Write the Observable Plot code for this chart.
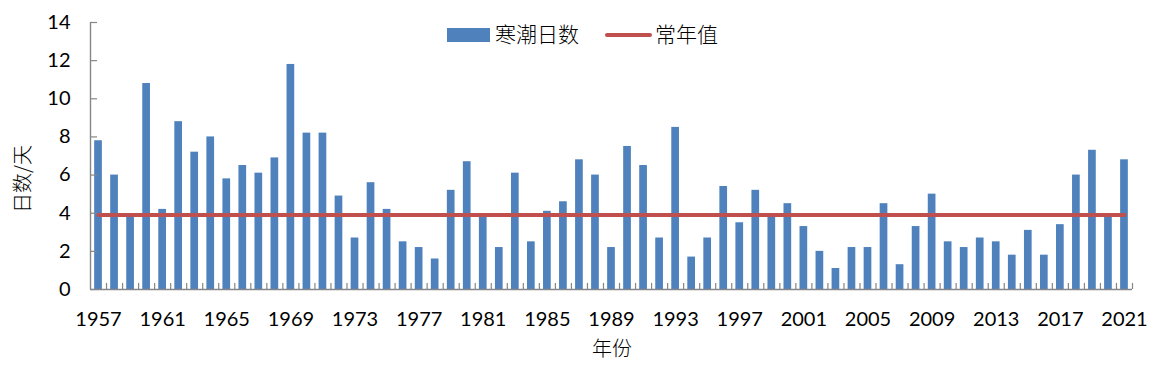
<!DOCTYPE html>
<html><head><meta charset="utf-8">
<script src="https://cdn.jsdelivr.net/npm/d3@7"></script>
<script src="https://cdn.jsdelivr.net/npm/@observablehq/plot@0.6"></script>
<style>
html,body{margin:0;padding:0;background:#fff;}
#wrap{position:relative;width:1161px;height:367px;}
.lab{position:absolute;font-family:"Noto Sans CJK SC";font-weight:300;font-size:20px;color:#000;white-space:nowrap;line-height:1;}
</style></head><body><div id="wrap"></div>
<script>
const years = d3.range(1957, 2022);
const coldDays = [
  7.8, 6.0, 3.8, 10.8, 4.2, 8.8, 7.2, 8.0, 5.8, 6.5,
  6.1, 6.9, 11.8, 8.2, 8.2, 4.9, 2.7, 5.6, 4.2, 2.5,
  2.2, 1.6, 5.2, 6.7, 3.9, 2.2, 6.1, 2.5, 4.1, 4.6,
  6.8, 6.0, 2.2, 7.5, 6.5, 2.7, 8.5, 1.7, 2.7, 5.4,
  3.5, 5.2, 3.9, 4.5, 3.3, 2.0, 1.1, 2.2, 2.2, 4.5,
  1.3, 3.3, 5.0, 2.5, 2.2, 2.7, 2.5, 1.8, 3.1, 1.8,
  3.4, 6.0, 7.3, 3.9, 6.8
];
const normalValue = 3.9;
const yTicks = [0, 2, 4, 6, 8, 10, 12, 14];
const xTickLabels = [1957, 1961, 1965, 1969, 1973, 1977, 1981, 1985, 1989, 1993, 1997, 2001, 2005, 2009, 2013, 2017, 2021];
const seriesNames = ["寒潮日数", "常年值"];
const axisTitles = {x: "年份", y: "日数/天"};

const data = years.map((year, i) => ({year, days: coldDays[i], normal: normalValue}));
const x0 = years[0] - 0.5;
const boundaries = years.map(y => y + 0.5);
const gray = "#868686";
const halfBar = 0.24;

const chart = Plot.plot({
  width: 1161,
  height: 367,
  marginLeft: 90,
  marginRight: 29,
  marginTop: 22,
  marginBottom: 78,
  style: {fontFamily: "Lato", fontSize: "20px", color: "#000", background: "#fff"},
  x: {type: "linear", domain: [x0, years[years.length - 1] + 0.5]},
  y: {domain: [0, 14]},
  marks: [
    Plot.rectY(data, {x1: d => d.year - halfBar, x2: d => d.year + halfBar, y: "days", fill: "#4F81BD"}),
    Plot.lineY(data, {x: "year", y: "normal", stroke: "#C0504D", strokeWidth: 4, strokeLinecap: "round"}),
    // inner tick marks
    Plot.ruleX(boundaries, {x: d => d, y1: 0, y2: 0.32, stroke: gray, strokeWidth: 1.2}),
    Plot.ruleY(yTicks, {y: d => d, x1: x0, x2: x0 + 0.44, stroke: gray, strokeWidth: 1.2}),
    // axis lines
    Plot.ruleY([0], {stroke: gray, strokeWidth: 1.4}),
    Plot.ruleX([x0], {stroke: gray, strokeWidth: 1.4}),
    Plot.axisY({ticks: yTicks, tickSize: 0, tickPadding: 20, label: null, tickFormat: d => String(d), fill: "#000"}),
    Plot.axisX({ticks: xTickLabels, tickSize: 0, tickPadding: 22, label: null, tickFormat: d => String(d), fill: "#000"})
  ]
});

const wrap = document.getElementById("wrap");
wrap.appendChild(chart);

function addLabel(text, css) {
  const el = document.createElement("div");
  el.className = "lab";
  el.textContent = text;
  Object.assign(el.style, css);
  wrap.appendChild(el);
  return el;
}
function addBox(css) {
  const el = document.createElement("div");
  el.style.position = "absolute";
  Object.assign(el.style, css);
  wrap.appendChild(el);
}
// legend
addBox({left: "447px", top: "28px", width: "43px", height: "14px", background: "#4F81BD"});
addLabel(seriesNames[0], {left: "495px", top: "23px", fontSize: "21px"});
addBox({left: "605px", top: "33px", width: "47px", height: "4px", borderRadius: "2px", background: "#C0504D"});
addLabel(seriesNames[1], {left: "655px", top: "23px", fontSize: "21px"});
// axis titles
addLabel(axisTitles.y, {left: "22px", top: "179px", transform: "translate(-50%,-50%) rotate(-90deg)"});
addLabel(axisTitles.x, {left: "612px", top: "348px", transform: "translate(-50%,-50%)"});
</script>
</body></html>
